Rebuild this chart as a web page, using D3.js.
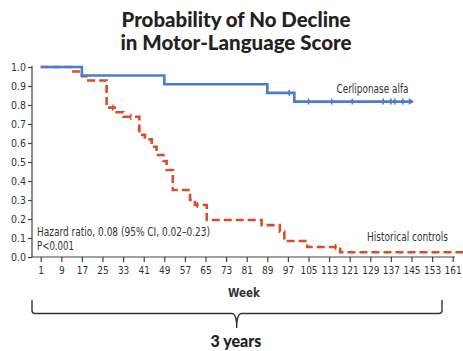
<!DOCTYPE html>
<html><head><meta charset="utf-8">
<script src="https://cdn.jsdelivr.net/npm/d3@7"></script>
<style>html,body{margin:0;padding:0;background:#fff;}svg{display:block;}</style>
</head><body>
<svg id="chart" width="463" height="351"></svg>
<script>
const xTicks = [1,9,17,25,33,41,49,57,65,73,81,89,97,105,113,121,129,137,145,153,161];
const yTicks = [0,0.1,0.2,0.3,0.4,0.5,0.6,0.7,0.8,0.9,1.0];

const blueWeeks = [1, 17, 49, 89, 99.5, 145.5];
const blueSurv  = [1, 0.955, 0.909, 0.864, 0.818, 0.818];
const blueCensorWeeks = [97.5, 105, 114, 122, 134, 137, 138.5, 141.6];
const blueCensorSurv  = [0.864, 0.818, 0.818, 0.818, 0.818, 0.818, 0.818, 0.818];

const redWeeks = [1, 13, 17, 19.5, 26.6, 30.5, 33.1, 39.3, 41.5, 44.1, 46, 48.6, 49.9, 52.3, 59, 60.9, 65.5, 86.8, 93.9, 95.6, 104.5, 117.3, 165];
const redSurv  = [1, 0.976, 0.952, 0.929, 0.786, 0.762, 0.738, 0.643, 0.619, 0.58, 0.537, 0.505, 0.458, 0.353, 0.30, 0.274, 0.195, 0.168, 0.133, 0.084, 0.053, 0.025, 0.025];
const redCensorWeeks = [29, 36, 61.8, 115.5];
const redCensorSurv  = [0.786, 0.738, 0.274, 0.053];

const blueColor = "#4a7ecb";
const redColor = "#d64f2c";
const tickFont = "'Liberation Sans Narrow','DejaVu Sans Condensed','Liberation Sans',sans-serif";

const svg = d3.select("#chart");
const x = d3.scaleLinear().domain([1,161]).range([40.7,452.7]);
const y = d3.scaleLinear().domain([0,1]).range([257,67]);

// Title
svg.append("text").attr("x",236).attr("y",27).attr("text-anchor","middle")
  .attr("font-family","Lato, 'Open Sans', sans-serif").attr("font-weight",900).attr("font-size",20)
  .attr("textLength",229).attr("lengthAdjust","spacingAndGlyphs")
  .attr("fill","#222").text("Probability of No Decline");
svg.append("text").attr("x",236).attr("y",50).attr("text-anchor","middle")
  .attr("font-family","Lato, 'Open Sans', sans-serif").attr("font-weight",900).attr("font-size",20)
  .attr("textLength",231).attr("lengthAdjust","spacingAndGlyphs")
  .attr("fill","#222").text("in Motor-Language Score");

// Y axis
const yAxis = d3.axisLeft(y).tickValues(yTicks).tickFormat(d3.format(".1f")).tickSize(4).tickPadding(2);
const gy = svg.append("g").attr("transform","translate(32,0)").call(yAxis);
gy.select(".domain").attr("d","M0,66V257").attr("stroke","#444").attr("stroke-width",1.2);
gy.selectAll(".tick line").attr("stroke","#444").attr("stroke-width",1.2);
gy.selectAll("text").attr("font-family",tickFont).attr("font-size",10.5).attr("fill","#333");

// X axis
const xAxis = d3.axisBottom(x).tickValues(xTicks).tickFormat(d3.format("d")).tickSize(5).tickPadding(5);
const gx = svg.append("g").attr("transform","translate(0,257)").call(xAxis);
gx.select(".domain").attr("d","M32,0H455").attr("stroke","#444").attr("stroke-width",1.2);
gx.selectAll(".tick line").attr("stroke","#444").attr("stroke-width",1.2);
gx.selectAll("text").attr("font-family",tickFont).attr("font-size",10).attr("fill","#333");

svg.append("text").attr("x",244).attr("y",297).attr("text-anchor","middle")
  .attr("font-family",tickFont).attr("font-size",11.5).attr("font-weight",600).attr("fill","#333").text("Week");

// Lines
const line = d3.line().curve(d3.curveStepAfter).x(d=>x(d[0])).y(d=>y(d[1]));
const redData = redWeeks.map((w,i)=>[w,redSurv[i]]);
const blueData = blueWeeks.map((w,i)=>[w,blueSurv[i]]);

svg.append("path").attr("d",line(redData)).attr("fill","none").attr("stroke",redColor)
  .attr("stroke-width",2.6).attr("stroke-dasharray","8,4");
svg.selectAll(".rc").data(redCensorWeeks).enter().append("line")
  .attr("x1",d=>x(d)).attr("x2",d=>x(d))
  .attr("y1",(d,i)=>y(redCensorSurv[i])-3).attr("y2",(d,i)=>y(redCensorSurv[i])+3)
  .attr("stroke",redColor).attr("stroke-width",1.5);

svg.append("path").attr("d",line(blueData)).attr("fill","none").attr("stroke",blueColor)
  .attr("stroke-width",2.6);
svg.selectAll(".bc").data(blueCensorWeeks).enter().append("line")
  .attr("x1",d=>x(d)).attr("x2",d=>x(d))
  .attr("y1",(d,i)=>y(blueCensorSurv[i])-3).attr("y2",(d,i)=>y(blueCensorSurv[i])+3)
  .attr("stroke",blueColor).attr("stroke-width",1.6);
// end arrow
const lastW = blueWeeks[blueWeeks.length-1], lastS = blueSurv[blueSurv.length-1];
svg.append("path").attr("d",`M${x(lastW)-4},${y(lastS)-3.5}L${x(lastW)+1},${y(lastS)}L${x(lastW)-4},${y(lastS)+3.5}Z`)
  .attr("fill",blueColor);

// Labels
const annFont = "'Liberation Sans Narrow','DejaVu Sans Condensed',sans-serif";
function ann(xp, yp, txt, len){
  svg.append("text").attr("x",xp).attr("y",yp).attr("font-family",annFont).attr("font-size",11.5)
    .attr("textLength",len).attr("lengthAdjust","spacingAndGlyphs").attr("fill","#333").text(txt);
}
ann(336.5, 93, "Cerliponase alfa", 72);
ann(367, 241, "Historical controls", 81);
ann(37, 236, "Hazard ratio, 0.08 (95% CI, 0.02–0.23)", 173);
ann(37, 250, "P<0.001", 37);

// Brace
const bx0 = 32, bx1 = 442, bmid = 236.7, by0 = 300, by1 = 313.5, btip = 328;
svg.append("path")
  .attr("d",`M${bx0},${by0}V${by1-3}Q${bx0},${by1} ${bx0+3},${by1}H${bmid-5}Q${bmid},${by1} ${bmid},${btip}Q${bmid},${by1} ${bmid+5},${by1}H${bx1-3}Q${bx1},${by1} ${bx1},${by1-3}V${by0}`)
  .attr("fill","none").attr("stroke","#333").attr("stroke-width",1.4);
svg.append("text").attr("x",236).attr("y",347).attr("text-anchor","middle")
  .attr("font-family","Lato, 'Open Sans', sans-serif").attr("font-weight",900).attr("font-size",16)
  .attr("fill","#222").text("3 years");
</script>
</body></html>
